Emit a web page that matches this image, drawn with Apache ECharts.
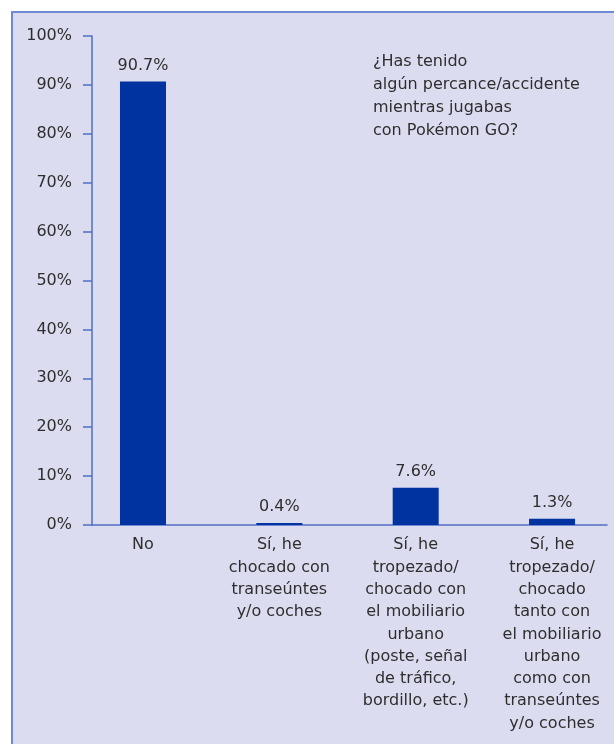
<!DOCTYPE html>
<html>
<head>
<meta charset="utf-8">
<script src="https://cdn.jsdelivr.net/npm/echarts@6/dist/echarts.min.js"></script>
<style>
  html, body { margin: 0; padding: 0; background: #ffffff; overflow: hidden; }
  #frame {
    position: absolute; left: 11px; top: 11px; width: 640px; height: 760px;
    background: #dcdcf0; border-left: 2px solid #6c8bd2; border-top: 2px solid #6c8bd2;
  }
  #chart { position: absolute; left: 0; top: 0; width: 614px; height: 744px; }
</style>
</head>
<body>
<div id="frame"></div>
<div id="chart"></div>
<script>
// Answers to the survey question, in percent
const categories = [
  'No',
  'Sí, he\nchocado con\ntranseúntes\ny/o coches',
  'Sí, he\ntropezado/\nchocado con\nel mobiliario\nurbano\n(poste, señal\nde tráfico,\nbordillo, etc.)',
  'Sí, he\ntropezado/\nchocado\ntanto con\nel mobiliario\nurbano\ncomo con\ntranseúntes\ny/o coches'
];
const values = [90.7, 0.4, 7.6, 1.3];
const yTicks = [0, 10, 20, 30, 40, 50, 60, 70, 80, 90, 100];
const question = '¿Has tenido\nalgún percance/accidente\nmientras jugabas\ncon Pokémon GO?';

const FONT = 'DejaVu Sans';
const TEXT = '#2e2e2e';
const AXIS = '#4f6fc4';
const BAR = '#0033a0';
const SIZE = 16;

const chart = echarts.init(document.getElementById('chart'), null, { renderer: 'canvas' });

chart.setOption({
  backgroundColor: 'transparent',
  animation: false,
  textStyle: { fontFamily: FONT },
  title: {
    text: question,
    left: 373,
    top: 50,
    padding: 0,
    textStyle: { fontFamily: FONT, fontSize: SIZE, fontWeight: 'normal', color: TEXT, lineHeight: 23 }
  },
  grid: { left: 92, right: 7, top: 36, bottom: 219, containLabel: false },
  xAxis: {
    type: 'value',
    min: -0.374,
    max: 3.403,
    axisLine: { show: true, onZero: false, lineStyle: { color: AXIS, width: 1.5 } },
    axisTick: { show: false },
    splitLine: { show: false },
    axisLabel: {
      customValues: categories.map((_, i) => i),
      formatter: v => categories[Math.round(v)],
      color: TEXT,
      fontFamily: FONT,
      fontSize: SIZE,
      lineHeight: 22.3,
      margin: 9,
      align: 'center',
      verticalAlign: 'top'
    }
  },
  yAxis: {
    type: 'value',
    min: yTicks[0],
    max: yTicks[yTicks.length - 1],
    interval: 10,
    axisLine: { show: true, onZero: false, lineStyle: { color: AXIS, width: 1.5 } },
    axisTick: { show: true, length: 9, lineStyle: { color: AXIS, width: 1.5 } },
    splitLine: { show: false },
    axisLabel: {
      formatter: '{value}%',
      color: TEXT,
      fontFamily: FONT,
      fontSize: SIZE,
      margin: 20
    }
  },
  series: [{
    type: 'bar',
    data: values.map((v, i) => [i, v]),
    barWidth: 46,
    itemStyle: { color: BAR },
    label: {
      show: true,
      position: 'top',
      distance: 8,
      formatter: p => p.value[1].toFixed(1) + '%',
      color: TEXT,
      fontFamily: FONT,
      fontSize: SIZE
    }
  }]
});
</script>
</body>
</html>
